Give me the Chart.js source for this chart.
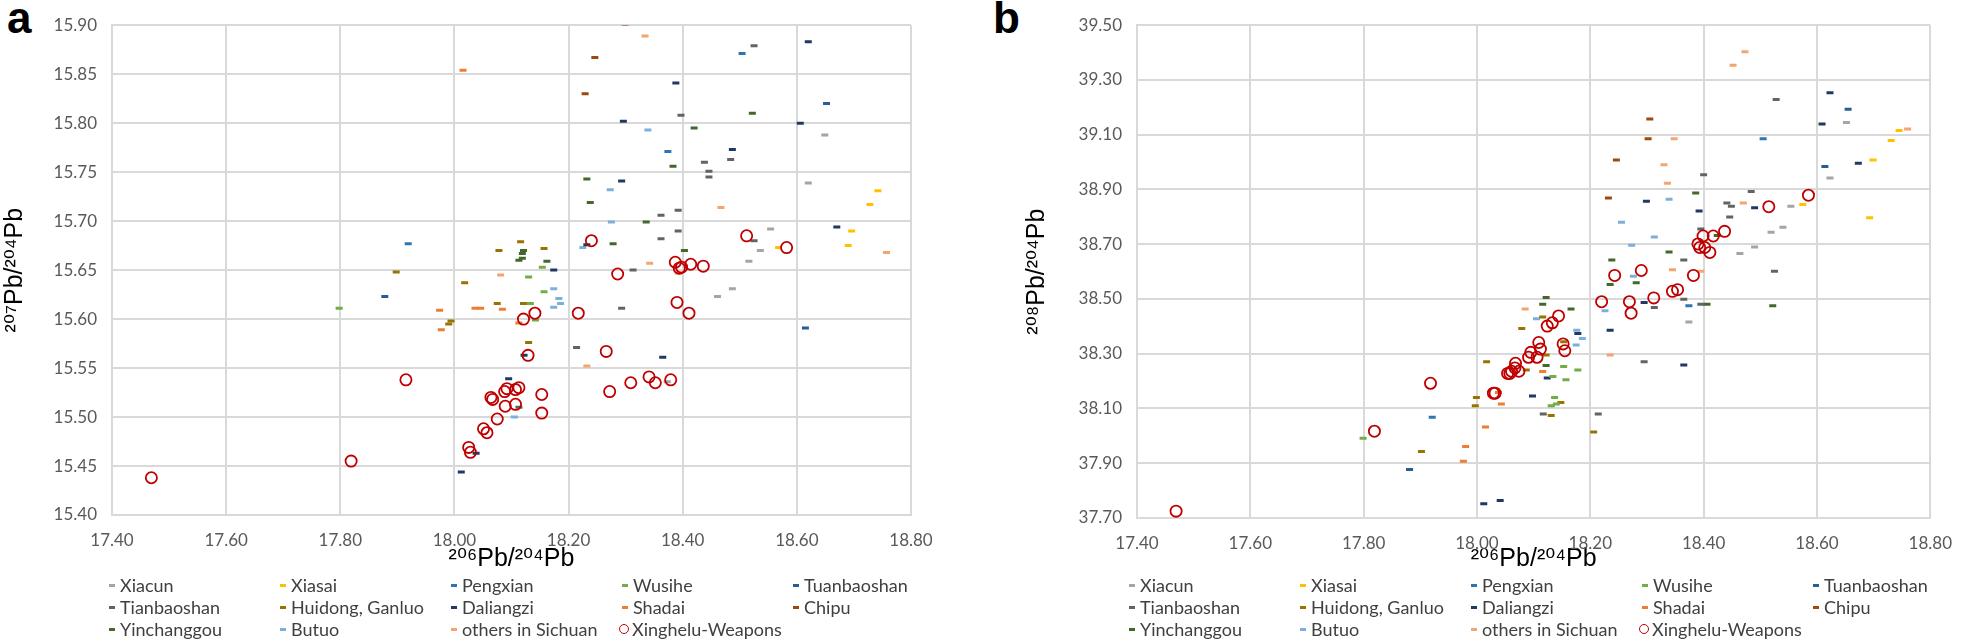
<!DOCTYPE html>
<html>
<head>
<meta charset="utf-8">
<script src="https://cdn.jsdelivr.net/npm/chart.js@4.4.1/dist/chart.umd.min.js"></script>
<style>
  body { margin: 0; background: #fff; width: 1967px; height: 642px; position: relative; overflow: hidden; font-family: Lato, sans-serif; }
  canvas { position: absolute; top: 0; }
  .panel-label { position: absolute; top: -4px; font: bold 44px "Liberation Sans", Arial, sans-serif; line-height: 44px; color: #000; }
  .legend { position: absolute; top: 574px; display: grid; grid-template-columns: repeat(5, 171px); grid-auto-rows: 22px; font-size: 18px; color: #404040; }
  .legend .item { display: flex; align-items: center; white-space: nowrap; }
  .mk { display: inline-block; width: 6px; height: 3px; margin-right: 5px; margin-left: -3px; }
  .mk.circle { width: 8px; height: 8px; border: 1.8px solid #C00000; border-radius: 50%; background: none; margin-left: -6px; margin-right: 3px; }
</style>
</head>
<body>
<div class="panel-label" style="left:7px">a</div>
<div class="panel-label" style="left:993px">b</div>
<canvas id="chartA" width="970" height="575" style="left:0"></canvas>
<canvas id="chartB" width="967" height="575" style="left:1000px"></canvas>
<div class="legend" id="legendA" style="left:112px"></div>
<div class="legend" id="legendB" style="left:1132px"></div>
<script>
const seriesNames = ["Xiacun", "Xiasai", "Pengxian", "Wusihe", "Tuanbaoshan",
  "Tianbaoshan", "Huidong, Ganluo", "Daliangzi", "Shadai", "Chipu",
  "Yinchanggou", "Butuo", "others in Sichuan", "Xinghelu-Weapons"];
const seriesColors = ["#A5A5A5", "#FFC000", "#2E75B6", "#70AD47", "#255E91",
  "#636363", "#997300", "#1F3864", "#ED7D31", "#9E480E",
  "#43682B", "#7CAFDD", "#F4A46E", "#C00000"];

// x ticks shared by both panels
const xTicks = [17.40, 17.60, 17.80, 18.00, 18.20, 18.40, 18.60, 18.80];
const yTicksA = [15.40, 15.45, 15.50, 15.55, 15.60, 15.65, 15.70, 15.75, 15.80, 15.85, 15.90];
const yTicksB = [37.70, 37.90, 38.10, 38.30, 38.50, 38.70, 38.90, 39.10, 39.30, 39.50];

// panel a: 206Pb/204Pb vs 207Pb/204Pb
const aXiacun = [[18.649,15.788],[18.620,15.739],[18.554,15.692],[18.536,15.670],[18.516,15.659],[18.487,15.631],[18.461,15.623],[18.373,15.536]];
const aXiasai = [[18.742,15.731],[18.728,15.717],[18.568,15.673],[18.696,15.690],[18.690,15.675]];
const aPengxian = [[18.504,15.871],[17.919,15.677],[18.374,15.771]];
const aWusihe = [[17.798,15.611],[18.154,15.653],[18.130,15.643],[18.157,15.628],[18.133,15.616],[18.142,15.599]];
const aTuanbaoshan = [[18.652,15.820],[18.615,15.591],[17.878,15.623]];
const aTianbaoshan = [[18.525,15.879],[18.397,15.808],[18.484,15.763],[18.438,15.760],[18.446,15.751],[18.446,15.745],[18.362,15.706],[18.392,15.711],[18.392,15.690],[18.362,15.682],[18.525,15.680],[18.313,15.650],[18.293,15.611],[18.214,15.571],[18.113,15.510]];
const aHuidong = [[18.116,15.679],[18.078,15.670],[18.157,15.672],[18.018,15.637],[18.075,15.616],[18.121,15.616],[17.994,15.598],[17.990,15.595],[17.898,15.648],[18.130,15.576]];
const aDaliangzi = [[18.620,15.883],[18.388,15.841],[18.606,15.800],[18.296,15.802],[18.487,15.773],[18.293,15.741],[18.670,15.694],[18.174,15.650],[18.232,15.676],[18.122,15.563],[18.365,15.561],[18.095,15.539],[18.038,15.463],[18.012,15.444]];
const aShadai = [[18.015,15.854],[18.036,15.611],[18.046,15.611],[18.084,15.610],[18.113,15.596],[17.974,15.609],[17.977,15.589]];
const aChipu = [[18.299,15.901],[18.246,15.867],[18.229,15.830]];
const aYinchanggou = [[18.522,15.810],[18.420,15.795],[18.383,15.756],[18.232,15.743],[18.238,15.719],[18.336,15.699],[18.278,15.677],[18.403,15.670],[18.121,15.670],[18.119,15.667],[18.119,15.662],[18.113,15.660],[18.162,15.659]];
const aButuo = [[18.339,15.793],[18.273,15.732],[18.275,15.699],[18.225,15.673],[18.174,15.631],[18.183,15.621],[18.186,15.616],[18.174,15.612],[18.105,15.500]];
const aOthers = [[18.334,15.889],[18.467,15.714],[18.757,15.668],[18.342,15.657],[18.392,15.647],[18.081,15.645],[18.232,15.552]];
const aWeapons = [[18.240,15.680],[18.512,15.685],[18.582,15.673],[18.387,15.658],[18.398,15.653],[18.394,15.652],[18.414,15.656],[18.436,15.654],
  [18.286,15.646],[18.217,15.606],[18.390,15.617],[18.411,15.606],[18.121,15.600],[18.141,15.606],[18.129,15.563],[18.266,15.567],
  [18.272,15.526],[18.309,15.535],[18.341,15.541],[18.352,15.535],[18.379,15.538],[18.153,15.523],[18.153,15.504],[18.092,15.529],
  [18.088,15.526],[18.107,15.528],[18.113,15.530],[18.064,15.520],[18.067,15.518],[18.089,15.511],[18.107,15.513],[18.075,15.498],
  [18.051,15.488],[18.057,15.484],[18.025,15.469],[18.028,15.464],[17.469,15.438],[17.819,15.455],[17.915,15.538]];

// panel b: 206Pb/204Pb vs 208Pb/204Pb
const bXiacun = [[18.652,39.145],[18.623,38.942],[18.554,38.839],[18.519,38.744],[18.540,38.762],[18.490,38.690],[18.464,38.666],[18.374,38.416]];
const bXiasai = [[18.745,39.115],[18.731,39.079],[18.699,39.008],[18.575,38.845],[18.693,38.797]];
const bPengxian = [[18.505,39.085],[17.921,38.068],[18.374,38.475]];
const bWusihe = [[17.799,37.991],[18.153,38.253],[18.178,38.241],[18.157,38.205],[18.134,38.217],[18.137,38.140],[18.140,38.116],[18.131,38.110]];
const bTuanbaoshan = [[18.655,39.193],[18.614,38.984],[17.881,37.877]];
const bTianbaoshan = [[18.528,39.229],[18.400,38.954],[18.484,38.893],[18.441,38.851],[18.449,38.839],[18.446,38.799],[18.395,38.756],[18.365,38.642],[18.525,38.601],[18.365,38.499],[18.313,38.469],[18.395,38.481],[18.295,38.271],[18.214,38.080],[18.117,38.080]];
const bHuidong = [[18.116,38.434],[18.079,38.392],[18.153,38.344],[18.122,38.295],[18.087,38.241],[18.017,38.271],[17.999,38.140],[17.997,38.110],[18.148,38.122],[18.131,38.074],[18.206,38.014],[17.902,37.943]];
const bDaliangzi = [[18.623,39.253],[18.609,39.139],[18.673,38.996],[18.299,38.857],[18.490,38.833],[18.392,38.821],[18.295,38.487],[18.235,38.386],[18.178,38.374],[18.124,38.211],[18.098,38.146],[18.365,38.259],[18.012,37.752],[18.041,37.764]];
const bShadai = [[18.043,38.116],[18.015,38.032],[17.980,37.961],[17.976,37.907],[18.038,38.158],[18.116,38.235]];
const bChipu = [[18.305,39.157],[18.302,39.085],[18.246,39.008],[18.232,38.869]];
const bYinchanggou = [[18.386,38.887],[18.424,38.732],[18.339,38.672],[18.238,38.642],[18.235,38.553],[18.281,38.559],[18.406,38.481],[18.522,38.475],[18.122,38.505],[18.116,38.481],[18.166,38.463],[18.122,38.257]];
const bButuo = [[18.339,38.864],[18.255,38.780],[18.313,38.726],[18.273,38.696],[18.276,38.583],[18.226,38.457],[18.105,38.428],[18.176,38.386],[18.186,38.356],[18.175,38.332]];
const bOthers = [[18.473,39.403],[18.452,39.354],[18.760,39.121],[18.348,39.085],[18.330,38.990],[18.336,38.923],[18.470,38.851],[18.345,38.607],[18.395,38.601],[18.085,38.463],[18.235,38.295]];
const bWeapons = [[18.585,38.879],[18.515,38.837],[18.437,38.747],[18.417,38.730],[18.399,38.730],[18.390,38.701],[18.402,38.688],[18.393,38.688],
  [18.411,38.670],[18.382,38.586],[18.290,38.604],[18.243,38.586],[18.345,38.528],[18.354,38.534],[18.312,38.504],[18.220,38.490],
  [18.269,38.490],[18.272,38.448],[18.144,38.438],[18.133,38.413],[18.124,38.401],[18.109,38.341],[18.112,38.317],[18.095,38.305],
  [18.106,38.287],[18.091,38.287],[18.152,38.336],[18.155,38.311],[18.068,38.265],[18.067,38.248],[18.074,38.236],[18.061,38.236],
  [18.054,38.228],[18.058,38.228],[18.029,38.156],[18.032,38.156],[17.469,37.725],[17.819,38.017],[17.918,38.192]];

const panelA = [aXiacun, aXiasai, aPengxian, aWusihe, aTuanbaoshan, aTianbaoshan, aHuidong,
  aDaliangzi, aShadai, aChipu, aYinchanggou, aButuo, aOthers, aWeapons];
const panelB = [bXiacun, bXiasai, bPengxian, bWusihe, bTuanbaoshan, bTianbaoshan, bHuidong,
  bDaliangzi, bShadai, bChipu, bYinchanggou, bButuo, bOthers, bWeapons];

function makeDatasets(panel) {
  return panel.map((pts, i) => {
    const isCircle = i === seriesNames.length - 1;
    return {
      label: seriesNames[i],
      data: pts.map((p) => ({ x: p[0], y: p[1] })),
      pointStyle: isCircle ? "circle" : "line",
      radius: isCircle ? 5.6 : 3.5,
      borderWidth: isCircle ? 1.8 : 3,
      borderColor: seriesColors[i],
      backgroundColor: isCircle ? "rgba(0,0,0,0)" : seriesColors[i],
      order: isCircle ? -1 : 0,
    };
  });
}

const tickFont = { family: "Lato", size: 17 };
const titleFont = { family: "'Liberation Sans', 'DejaVu Sans', sans-serif", size: 25 };
const gridColor = "#D9D9D9";

function makeChart(id, panel, yTicks, yTitle, yWidth, xHeight, pad, yTitlePad) {
  const ctx = document.getElementById(id).getContext("2d");
  return new Chart(ctx, {
    type: "scatter",
    data: { datasets: makeDatasets(panel) },
    options: {
      responsive: false,
      animation: false,
      devicePixelRatio: 1,
      layout: { padding: pad },
      plugins: { legend: { display: false }, tooltip: { enabled: false } },
      scales: {
        x: {
          type: "linear",
          min: xTicks[0],
          max: xTicks[xTicks.length - 1],
          afterBuildTicks: (s) => { s.ticks = xTicks.map((v) => ({ value: v })); },
          afterFit: (s) => { s.height = xHeight; },
          ticks: { font: tickFont, color: "#595959", padding: 15, callback: (v) => v.toFixed(2) },
          grid: { color: gridColor, lineWidth: 2, drawTicks: false },
          border: { color: gridColor, width: 2 },
          title: { display: true, text: "²⁰⁶Pb/²⁰⁴Pb", font: titleFont, color: "#000", padding: { top: 0, bottom: 0 } },
        },
        y: {
          type: "linear",
          min: yTicks[0],
          max: yTicks[yTicks.length - 1],
          afterBuildTicks: (s) => { s.ticks = yTicks.map((v) => ({ value: v })); },
          afterFit: (s) => { s.width = yWidth; },
          ticks: { font: tickFont, color: "#595959", padding: 15, callback: (v) => v.toFixed(2) },
          grid: { color: gridColor, lineWidth: 2, drawTicks: false },
          border: { color: gridColor, width: 2 },
          title: { display: true, text: yTitle, font: titleFont, color: "#000", padding: { top: yTitlePad, bottom: 0 } },
        },
      },
    },
  });
}

makeChart("chartA", panelA, yTicksA, "²⁰⁷Pb/²⁰⁴Pb", 112, 59, { top: 23, right: 59, bottom: 1, left: 0 }, 0);
makeChart("chartB", panelB, yTicksB, "²⁰⁸Pb/²⁰⁴Pb", 137, 56, { top: 20, right: 28, bottom: 1, left: 0 }, 22);

function buildLegend(id) {
  const el = document.getElementById(id);
  // row-major, 5 per row, like the reference
  seriesNames.forEach((name, i) => {
    const item = document.createElement("div");
    item.className = "item";
    const mk = document.createElement("span");
    if (i === seriesNames.length - 1) {
      mk.className = "mk circle";
    } else {
      mk.className = "mk";
      mk.style.background = seriesColors[i];
    }
    item.appendChild(mk);
    item.appendChild(document.createTextNode(name));
    el.appendChild(item);
  });
}
buildLegend("legendA");
buildLegend("legendB");
</script>
</body>
</html>
